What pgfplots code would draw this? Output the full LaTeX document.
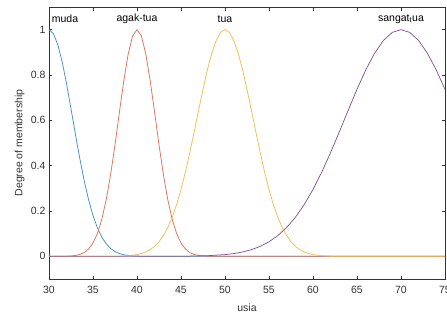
\documentclass[border=0pt]{standalone}
\usepackage{pgfplots}
\pgfplotsset{compat=1.18}
\usepackage{fontspec}
\setmainfont{Liberation Sans}
\definecolor{mblue}{rgb}{0.27,0.56,0.78}
\definecolor{morange}{rgb}{0.85,0.45,0.35}
\definecolor{myellow}{rgb}{0.93,0.75,0.32}
\definecolor{mpurple}{rgb}{0.52,0.34,0.57}
\definecolor{axgray}{rgb}{0.2,0.2,0.2}
\begin{document}
\begin{tikzpicture}
\begin{axis}[
  at={(0pt,0pt)}, anchor=south west,
  scale only axis, width=396pt, height=272pt,
  xmin=30, xmax=75, ymin=-0.1, ymax=1.1,
  xtick={30,35,40,45,50,55,60,65,70,75},
  ytick={0,0.2,0.4,0.6,0.8,1},
  tick align=inside, major tick length=3.5pt,
  axis line style={axgray, line width=0.6pt},
  every tick/.style={axgray, line width=0.6pt},
  tick label style={font=\fontsize{10.5}{12}\selectfont, text=axgray},
  xticklabel style={yshift=-4pt},
  /pgf/number format/assume math mode=true,
  xlabel={usia}, ylabel={Degree of membership},
  label style={font=\fontsize{10.5}{12}\selectfont, text=axgray},
  xlabel style={at={(axis description cs:0.5,0)}, anchor=north, yshift=-21pt},
  ylabel style={at={(axis description cs:0,0.5)}, anchor=south, yshift=21pt},
  every axis plot/.append style={line width=0.75pt},
  clip=false,
]
\addplot[mblue] coordinates {(30,1) (30.5,0.983) (31,0.9337) (31.5,0.857) (32,0.760) (32.5,0.6514) (33,0.5394) (33.5,0.4316) (34,0.3337) (34.5,0.2494) (35,0.180) (35.5,0.1256) (36,0.0847) (36.5,0.0551) (37,0.0347) (37.5,0.0211) (38,0.0124) (38.5,0.0071) (39,0.0039) (39.5,0.0021) (40,0.0011) (41,0.0003) (42,0) (75,0)};
\addplot[morange] coordinates {(30,0) (31,0.0001) (32,0.0007) (32.5,0.0017) (33,0.0039) (33.5,0.0083) (34,0.0169) (34.5,0.0324) (35,0.0587) (35.5,0.1007) (36,0.1630) (36.5,0.2494) (37,0.3604) (37.5,0.4923) (38,0.6354) (38.5,0.7748) (39,0.8928) (39.5,0.9721) (40,1) (40.5,0.9721) (41,0.8928) (41.5,0.7748) (42,0.6354) (42.5,0.4923) (43,0.3604) (43.5,0.2494) (44,0.1630) (44.5,0.1007) (45,0.0587) (45.5,0.0324) (46,0.0169) (46.5,0.0083) (47,0.0039) (47.5,0.0017) (48,0.0007) (49,0.0001) (50,0) (75,0)};
\addplot[myellow] coordinates {(30,0) (35,0) (36,0.00007) (37,0.00026) (38,0.00088) (39,0.00272) (40,0.00758) (40.5,0.0122) (41,0.0192) (41.5,0.0294) (42,0.0439) (42.5,0.0641) (43,0.0914) (43.5,0.1271) (44,0.1724) (44.5,0.2283) (45,0.2950) (45.5,0.3720) (46,0.4578) (46.5,0.5498) (47,0.6444) (47.5,0.7370) (48,0.8226) (48.5,0.8960) (49,0.9523) (49.5,0.9879) (50,1) (50.5,0.9879) (51,0.9523) (51.5,0.8960) (52,0.8226) (52.5,0.7370) (53,0.6444) (53.5,0.5498) (54,0.4578) (54.5,0.3720) (55,0.2950) (55.5,0.2283) (56,0.1724) (56.5,0.1271) (57,0.0914) (57.5,0.0641) (58,0.0439) (58.5,0.0294) (59,0.0192) (59.5,0.0122) (60,0.00758) (61,0.00272) (62,0.00088) (63,0.00026) (64,0.00007) (65,0) (75,0)};
\addplot[mpurple] coordinates {(30,0) (40,0) (42,0.00007) (44,0.00026) (46,0.00088) (48,0.00272) (50,0.00758) (51,0.0122) (52,0.0192) (53,0.0294) (54,0.0439) (55,0.0641) (56,0.0914) (57,0.1271) (58,0.1724) (59,0.2283) (60,0.2950) (61,0.3720) (62,0.4578) (63,0.5498) (64,0.6444) (65,0.7370) (66,0.8226) (67,0.8960) (68,0.9523) (69,0.9879) (70,1) (71,0.9879) (72,0.9523) (73,0.8960) (74,0.8226) (75,0.7370)};
\node[font=\fontsize{10.5}{12}\selectfont, anchor=west, inner sep=0pt] at (axis cs:30.3,1.048) {muda};
\node[font=\fontsize{10.5}{12}\selectfont, inner sep=0pt] at (axis cs:40,1.048) {agak-tua};
\node[font=\fontsize{10.5}{12}\selectfont, inner sep=0pt] at (axis cs:50,1.048) {tua};
\node[font=\fontsize{10.5}{12}\selectfont, inner sep=0pt] at (axis cs:70,1.048) {sangat\textsubscript{t}ua};
\end{axis}
\pgfresetboundingbox
\path (-49pt,-35pt) rectangle (398pt,279pt);
\end{tikzpicture}
\end{document}
